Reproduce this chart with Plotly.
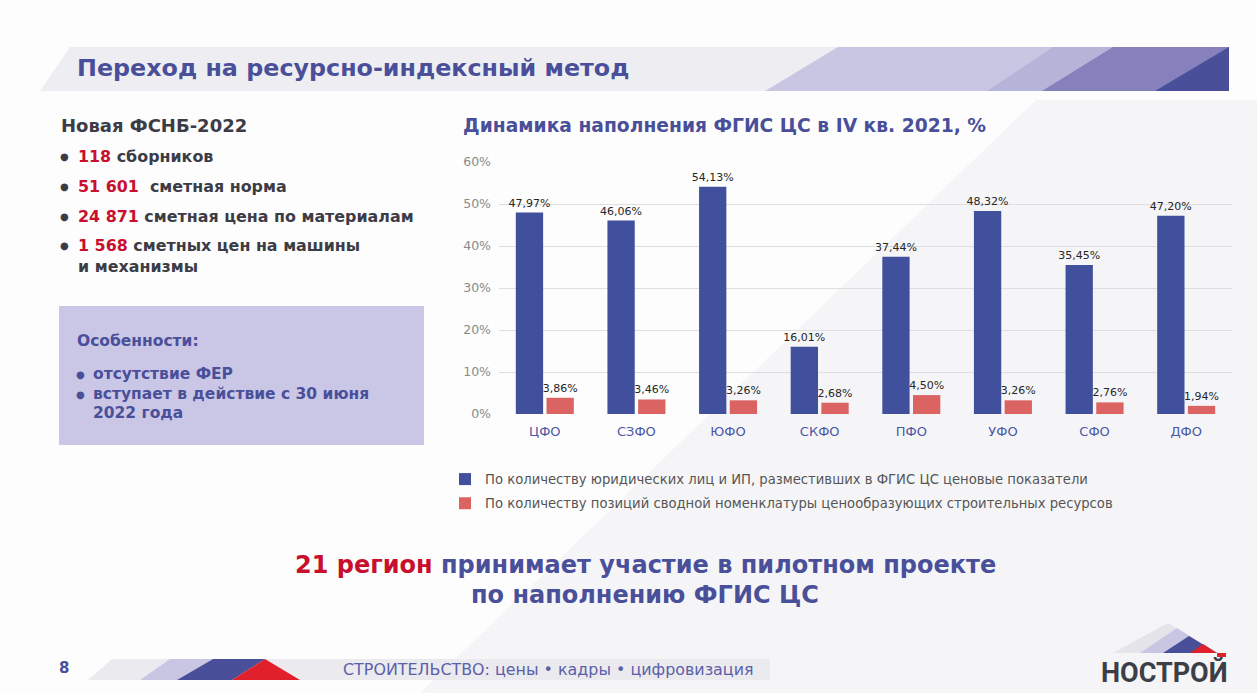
import plotly.graph_objects as go

W, H = 1257, 693

categories = ["ЦФО", "СЗФО", "ЮФО", "СКФО", "ПФО", "УФО", "СФО", "ДФО"]
legal_entities = [47.97, 46.06, 54.13, 16.01, 37.44, 48.32, 35.45, 47.20]
nomenclature = [3.86, 3.46, 3.26, 2.68, 4.50, 3.26, 2.76, 1.94]
series_names = [
    "По количеству юридических лиц и ИП, разместивших в ФГИС ЦС ценовые показатели",
    "По количеству позиций сводной номенклатуры ценообразующих строительных ресурсов",
]
y_ticks = [0, 10, 20, 30, 40, 50, 60]
y_tick_labels = ["0%", "10%", "20%", "30%", "40%", "50%", "60%"]

BLUE = "#41509c"
RED = "#db6462"
TXT_BLUE = "#4a4f9a"
RED_TXT = "#c8102e"
DARK = "#3c3c46"


def X(px):
    return px / W


def Y(py):
    return 1 - py / H


def fmt(v):
    return f"{v:.2f}".replace(".", ",") + "%"


fig = go.Figure()
fig.add_trace(go.Bar(
    x=categories, y=legal_entities, name=series_names[0], legendgroup="a",
    marker=dict(color=BLUE, line=dict(width=0)),
    text=[fmt(v) for v in legal_entities], textposition="outside",
    constraintext="none", cliponaxis=False,
    textfont=dict(size=11, color="#262626"), hoverinfo="x+y",
))
fig.add_trace(go.Bar(
    x=categories, y=nomenclature, name=series_names[1], legendgroup="b",
    marker=dict(color=RED, line=dict(width=0)),
    text=[fmt(v) for v in nomenclature], textposition="outside",
    constraintext="none", cliponaxis=False,
    textfont=dict(size=11, color="#262626"), hoverinfo="x+y",
))


def poly(pts, color, layer="below"):
    d = "M " + " L ".join(f"{X(x):.5f},{Y(y):.5f}" for x, y in pts) + " Z"
    return dict(type="path", xref="paper", yref="paper", path=d,
                fillcolor=color, line=dict(width=0), layer=layer)


shapes = [
    # faint background diagonal
    poly([(420, 693), (1257, 693), (1257, 100), (1036, 100)], "#f5f5f8"),
    # header band
    poly([(40, 91), (70, 47), (840, 47), (765, 91)], "#eeeef2"),
    poly([(765, 91), (838, 47), (1229, 47), (1229, 91)], "#c9c6e4"),
    poly([(987, 91), (1053, 47), (1229, 47), (1229, 91)], "#b7b4da"),
    poly([(1042, 91), (1113, 47), (1229, 47), (1229, 91)], "#8681bd"),
    poly([(1155, 91), (1229, 47), (1229, 91)], "#4a4f9a"),
    # lavender box
    dict(type="rect", xref="paper", yref="paper", x0=X(59), x1=X(424),
         y0=Y(445), y1=Y(306), fillcolor="#c9c6e6", line=dict(width=0),
         layer="below"),
    # footer band
    poly([(88, 680), (112, 659), (770, 659), (770, 680)], "#ebebef"),
    poly([(140, 680), (170, 659), (213, 659), (177, 680)], "#c9c6e4"),
    poly([(177, 680), (213, 659), (265, 659), (232, 680)], "#4a4f9a"),
    poly([(232, 680), (265, 659), (300, 680)], "#e0202a"),
    # logo
    poly([(1113, 653), (1168, 623), (1217, 653)], "#e4e4ea"),
    poly([(1140, 653), (1177, 628), (1217, 653)], "#c9c6e4"),
    poly([(1163, 653), (1189, 636), (1217, 653)], "#4a4f9a"),
    poly([(1190, 653), (1203, 644), (1217, 653)], "#e0202a"),
    dict(type="rect", xref="paper", yref="paper", x0=X(1217), x1=X(1226),
         y0=Y(657), y1=Y(653), fillcolor="#e0202a", line=dict(width=0),
         layer="below"),
]


def ann(text, x, y, size, color, xanchor="left", family="DejaVu Sans"):
    return dict(text=text, x=X(x), y=Y(y), xref="paper", yref="paper",
                xanchor=xanchor, yanchor="middle", showarrow=False,
                font=dict(size=size, color=color, family=family))


annotations = [
    ann("<b>Переход на ресурсно-индексный метод</b>", 75, 68, 23.8, TXT_BLUE),
    ann("<b>Новая ФСНБ-2022</b>", 59, 125, 18, DARK),
    ann("<b>Динамика наполнения ФГИС ЦС в IV кв. 2021, %</b>", 461, 125, 18.7, TXT_BLUE),
]
left_items = [
    ("118", " сборников", 156),
    ("51 601", "  сметная норма", 186),
    ("24 871", " сметная цена по материалам", 216),
    ("1 568", " сметных цен на машины", 246),
]
for num, rest, yy in left_items:
    annotations.append(ann("●", 64, yy, 10, DARK, xanchor="center"))
    annotations.append(ann(f"<b><span style='color:{RED_TXT}'>{num}</span>{rest}</b>",
                           76, yy, 15.9, DARK))
annotations.append(ann("<b>и механизмы</b>", 76, 266, 15.9, DARK))

annotations.append(ann("<b>Особенности:</b>", 75, 341, 15.5, TXT_BLUE))
for txt, yy, bullet in [("отсутствие ФЕР", 374, True),
                        ("вступает в действие с 30 июня", 394, True),
                        ("2022 года", 413, False)]:
    if bullet:
        annotations.append(ann("●", 80, yy, 10, TXT_BLUE, xanchor="center"))
    annotations.append(ann(f"<b>{txt}</b>", 91, yy, 15.5, TXT_BLUE))

annotations += [
    ann(f"<b><span style='color:{RED_TXT}'>21 регион</span> принимает участие в пилотном проекте</b>",
        645, 565, 24, TXT_BLUE, xanchor="center"),
    ann("<b>по наполнению ФГИС ЦС</b>", 645, 595, 24, TXT_BLUE, xanchor="center"),
    ann("<b>8</b>", 64, 668, 15, TXT_BLUE, xanchor="center"),
    ann("СТРОИТЕЛЬСТВО: цены • кадры • цифровизация", 341, 669, 15.9, "#5b60a9"),
    ann("<b>НОСТРОЙ</b>", 1164, 673, 27, "#3d3f47", xanchor="center", family="Roboto"),
]

fig.update_layout(
    width=W, height=H,
    margin=dict(l=0, r=0, t=0, b=0, pad=0, autoexpand=False),
    paper_bgcolor="#fdfdfd", plot_bgcolor="rgba(0,0,0,0)",
    font=dict(family="DejaVu Sans", color="#555555"),
    barmode="group", bargap=0.33, bargroupgap=0.11,
    showlegend=True,
    legend=dict(x=X(445), y=Y(464), xanchor="left", yanchor="top",
                orientation="v", font=dict(size=13.2, color="#555555"),
                bgcolor="rgba(0,0,0,0)", tracegroupgap=4, itemclick=False),
    xaxis=dict(domain=[X(499), X(1232)], showgrid=False, zeroline=False,
               showline=False, ticks="", ticklabelstandoff=8,
               automargin=False,
               tickfont=dict(size=13, color="#4b57a5"), fixedrange=True),
    yaxis=dict(domain=[Y(414), Y(162)], range=[0, 60], tickmode="array",
               tickvals=y_ticks, ticktext=y_tick_labels,
               showgrid=True, gridcolor="#dedede", automargin=False,
               gridwidth=1, zeroline=False, showline=False, ticks="",
               ticklabelstandoff=7,
               tickfont=dict(size=12.5, color="#8a8a8a"), fixedrange=True),
    shapes=shapes,
    annotations=annotations,
)

fig.write_html("out.html",
               config={"displayModeBar": False},
               post_script="document.body.style.margin='0';document.body.style.padding='0';")
